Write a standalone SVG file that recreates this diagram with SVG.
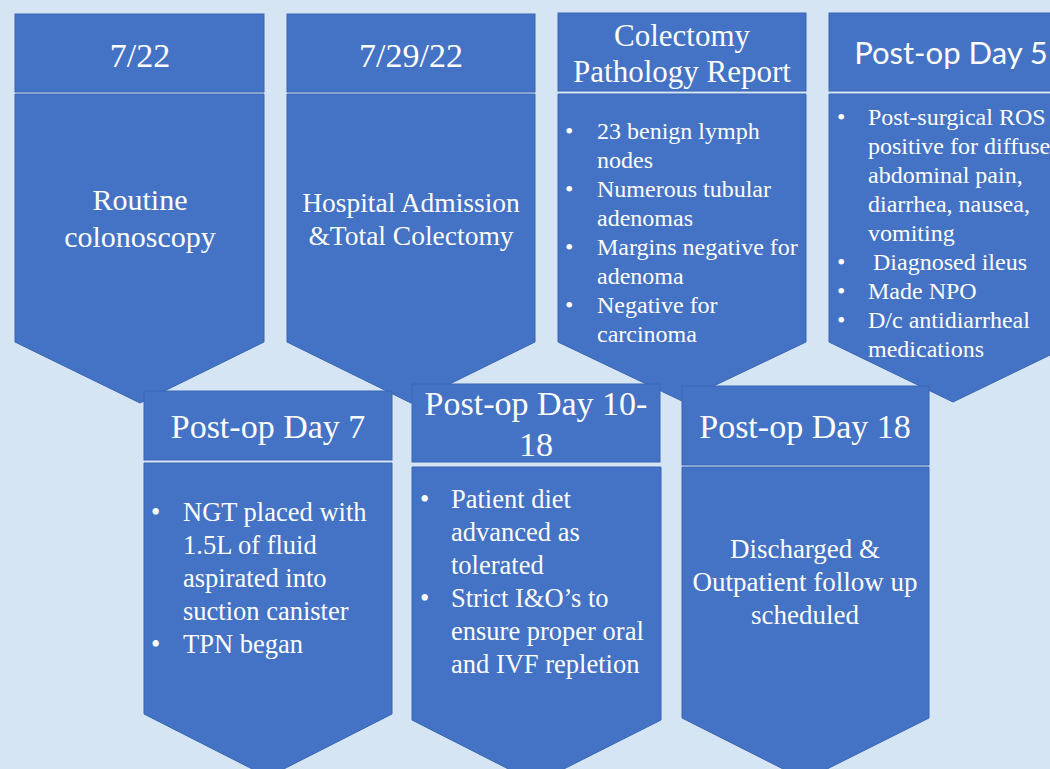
<svg xmlns="http://www.w3.org/2000/svg" width="1050" height="769" viewBox="0 0 1050 769">
<style>
.s{fill:#4472c4;stroke:#3a66b4;stroke-width:1}
.t{font-family:"Liberation Serif","Times New Roman",serif;fill:#ffffff}
.h{font-size:34px;text-anchor:middle}
.hs{font-family:Lato,"Liberation Sans",Arial,sans-serif;fill:#ffffff;font-size:31px;text-anchor:middle}
.b24{font-size:24px}
.b26{font-size:26.5px}
.c{text-anchor:middle}
</style>
<rect x="0" y="0" width="1050" height="769" fill="#d5e5f3"/>
<g id="connectors"/>
<g id="n1">
<rect class="s" x="15" y="14" width="249" height="78"/>
<path class="s" d="M15 94 H264 V342 L140 403 L15 342 Z"/>
<text class="t h" x="140" y="67">7/22</text>
<text class="t c" font-size="30" x="140" y="210">Routine</text>
<text class="t c" font-size="30" x="140" y="247">colonoscopy</text>
</g>
<g id="n2">
<rect class="s" x="287" y="14" width="248" height="78"/>
<path class="s" d="M287 94 H535 V342 L411 403 L287 342 Z"/>
<text class="t h" x="411" y="67">7/29/22</text>
<text class="t c" font-size="27.5" x="411" y="212">Hospital Admission</text>
<text class="t c" font-size="27.5" x="411" y="245">&amp;Total Colectomy</text>
</g>
<g id="n3">
<rect class="s" x="558" y="13" width="248" height="78"/>
<path class="s" d="M558 94 H806 V342 L682 401 L558 342 Z"/>
<text class="t c" font-size="31" x="682" y="46">Colectomy</text>
<text class="t c" font-size="31" x="682" y="82">Pathology Report</text>
<g class="t b24">
<text x="565" y="139">•</text><text x="597" y="139">23 benign lymph</text>
<text x="597" y="168">nodes</text>
<text x="565" y="197">•</text><text x="597" y="197">Numerous tubular</text>
<text x="597" y="226">adenomas</text>
<text x="565" y="255">•</text><text x="597" y="255">Margins negative for</text>
<text x="597" y="284">adenoma</text>
<text x="565" y="313">•</text><text x="597" y="313">Negative for</text>
<text x="597" y="342">carcinoma</text>
</g>
</g>
<g id="n4">
<rect class="s" x="829" y="13" width="248" height="78"/>
<path class="s" d="M829 94 H1077 V342 L953 402 L829 342 Z"/>
<text class="hs" x="951" y="64">Post-op Day 5</text>
<g class="t b24">
<text x="837" y="125">•</text><text x="868" y="125">Post-surgical ROS</text>
<text x="868" y="154">positive for diffuse</text>
<text x="868" y="183">abdominal pain,</text>
<text x="868" y="212">diarrhea, nausea,</text>
<text x="868" y="241">vomiting</text>
<text x="837" y="270">•</text><text x="873" y="270">Diagnosed ileus</text>
<text x="837" y="299">•</text><text x="868" y="299">Made NPO</text>
<text x="837" y="328">•</text><text x="868" y="328">D/c antidiarrheal</text>
<text x="868" y="357">medications</text>
</g>
</g>
<g id="n5">
<rect class="s" x="144" y="391" width="248" height="69"/>
<path class="s" d="M144 463 H392 V714 L268 777 L144 714 Z"/>
<text class="t h" font-size="35" x="268" y="438">Post-op Day 7</text>
<g class="t b26">
<text x="151" y="521">•</text><text x="183" y="521">NGT placed with</text>
<text x="183" y="554">1.5L of fluid</text>
<text x="183" y="587">aspirated into</text>
<text x="183" y="620">suction canister</text>
<text x="151" y="653">•</text><text x="183" y="653">TPN began</text>
</g>
</g>
<g id="n6">
<rect class="s" x="412" y="384" width="248" height="78"/>
<path class="s" d="M412 467 H661 V720 L536 783 L412 720 Z"/>
<text class="t h" font-size="35" x="536" y="415">Post-op Day 10-</text>
<text class="t h" font-size="35" x="536" y="456">18</text>
<g class="t b26">
<text x="420" y="508">•</text><text x="451" y="508">Patient diet</text>
<text x="451" y="541">advanced as</text>
<text x="451" y="574">tolerated</text>
<text x="420" y="607">•</text><text x="451" y="607">Strict I&amp;O’s to</text>
<text x="451" y="640">ensure proper oral</text>
<text x="451" y="673">and IVF repletion</text>
</g>
</g>
<g id="n7">
<rect class="s" x="682" y="386" width="247" height="79"/>
<path class="s" d="M682 467 H929 V718 L805 780 L682 718 Z"/>
<text class="t h" font-size="35" x="805" y="438">Post-op Day 18</text>
<text class="t c" font-size="27" x="805" y="558">Discharged &amp;</text>
<text class="t c" font-size="27" x="805" y="591">Outpatient follow up</text>
<text class="t c" font-size="27" x="805" y="624">scheduled</text>
</g>
</svg>
